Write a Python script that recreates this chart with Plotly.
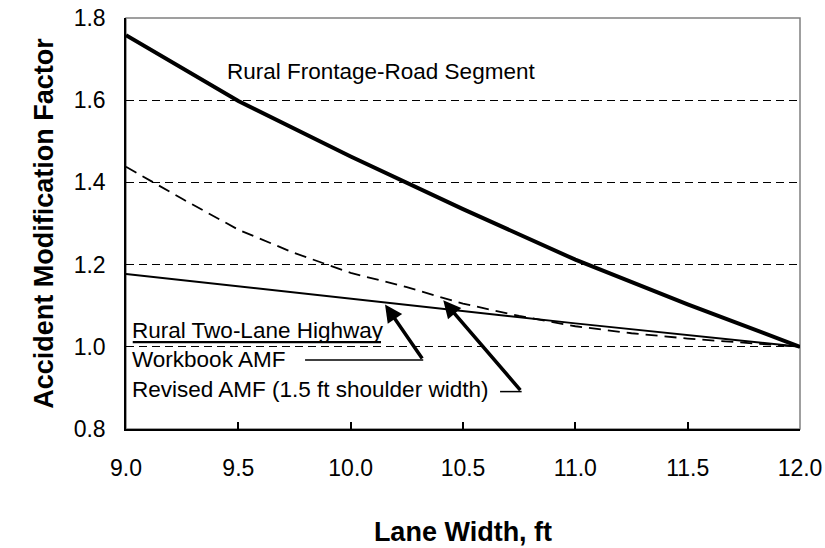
import plotly.graph_objects as go

# Data (lane width in ft, AMF)
lane_width = [9.0, 9.5, 10.0, 10.5, 11.0, 11.5, 12.0]
frontage_amf = [1.758, 1.598, 1.463, 1.335, 1.212, 1.103, 1.0]

workbook_x = [9.0, 10.0, 11.0, 12.0]
workbook_amf = [1.177, 1.117, 1.057, 1.0]

revised_x = [9.0, 9.25, 9.5, 9.75, 10.0, 10.25, 10.5, 10.75, 11.0, 11.25, 11.5, 11.75, 12.0]
revised_amf = [1.438, 1.36, 1.285, 1.228, 1.18, 1.145, 1.105, 1.075, 1.05, 1.033, 1.02, 1.01, 1.0]

x_ticks = [9.0, 9.5, 10.0, 10.5, 11.0, 11.5, 12.0]
y_ticks = [0.8, 1.0, 1.2, 1.4, 1.6, 1.8]

FONT = "Liberation Sans, Arial, sans-serif"

fig = go.Figure()
fig.add_trace(go.Scatter(x=workbook_x, y=workbook_amf, mode="lines",
                         line=dict(color="black", width=2)))
fig.add_trace(go.Scatter(x=revised_x, y=revised_amf, mode="lines",
                         line=dict(color="black", width=1.8, dash="12px,7px")))
fig.add_trace(go.Scatter(x=lane_width, y=frontage_amf, mode="lines",
                         line=dict(color="black", width=4)))

annotations = [
    dict(x=9.44, y=1.669, xref="x", yref="y", text="Rural Frontage-Road Segment",
         showarrow=False, xanchor="left", yanchor="middle",
         font=dict(family=FONT, size=22.5, color="black")),
    dict(x=9.018, y=1.04, xref="x", yref="y", text="Rural Two-Lane Highway",
         showarrow=False, xanchor="left", yanchor="middle",
         font=dict(family=FONT, size=22.5, color="black")),
    dict(x=9.018, y=0.968, xref="x", yref="y", text="Workbook AMF",
         showarrow=False, xanchor="left", yanchor="middle",
         font=dict(family=FONT, size=22.5, color="black")),
    dict(x=9.018, y=0.895, xref="x", yref="y", text="Revised AMF (1.5 ft shoulder width)",
         showarrow=False, xanchor="left", yanchor="middle",
         font=dict(family=FONT, size=22.5, color="black")),
    # arrows
    dict(x=10.153, y=1.103, xref="x", yref="y", ax=10.323, ay=0.968,
         axref="x", ayref="y", text="", showarrow=True, arrowhead=2,
         arrowsize=1.0, arrowwidth=3.5, arrowcolor="black", standoff=0),
    dict(x=10.412, y=1.113, xref="x", yref="y", ax=10.761, ay=0.891,
         axref="x", ayref="y", text="", showarrow=True, arrowhead=2,
         arrowsize=1.0, arrowwidth=3.5, arrowcolor="black", standoff=0),
]

shapes = [
    dict(type="rect", xref="paper", yref="paper", x0=0, y0=0, x1=1, y1=1,
         line=dict(color="#808080", width=1.5), layer="below"),
    # underline of the "Rural Two-Lane Highway" heading
    dict(type="line", xref="x", yref="y", x0=9.03, x1=10.135, y0=1.0115, y1=1.0115,
         line=dict(color="black", width=2.2)),
    # leader lines from labels to arrows
    dict(type="line", xref="x", yref="y", x0=9.797, x1=10.323, y0=0.968, y1=0.968,
         line=dict(color="black", width=1.5)),
    dict(type="line", xref="x", yref="y", x0=10.665, x1=10.761, y0=0.891, y1=0.891,
         line=dict(color="black", width=1.5)),
]

fig.update_layout(
    width=825, height=548,
    margin=dict(l=126, r=25, t=18, b=119),
    paper_bgcolor="white", plot_bgcolor="white",
    showlegend=False,
    font=dict(family=FONT, size=23, color="black"),
    annotations=annotations,
    shapes=shapes,
)

fig.update_xaxes(
    range=[9.0, 12.0], tickvals=x_ticks, ticktext=[f"{v:.1f}" for v in x_ticks],
    showgrid=False, zeroline=False,
    showline=True, linecolor="black", linewidth=1.5,
    ticks="inside", ticklen=7, tickwidth=1.5, tickcolor="black",
    tickfont=dict(family=FONT, size=23, color="black"),
    ticklabelstandoff=18, ticklabeloverflow="allow",
    title=dict(text="<b>Lane Width, ft</b>", font=dict(family=FONT, size=27, color="black"),
               standoff=42),
    automargin=False,
)
fig.update_yaxes(
    range=[0.8, 1.8], tickvals=y_ticks, ticktext=[f"{v:.1f}" for v in y_ticks],
    showgrid=True, gridcolor="black", gridwidth=1, griddash="8px,5px",
    zeroline=False,
    showline=True, linecolor="black", linewidth=1.5,
    ticks="", tickfont=dict(family=FONT, size=23, color="black"),
    ticklabelstandoff=14, ticklabeloverflow="allow",
    title=dict(text="<b>Accident Modification Factor</b>",
               font=dict(family=FONT, size=27, color="black"), standoff=12),
    automargin=False,
)

# remove the default 8px page margin so the figure fills the window exactly
fig.write_html("out.html", config={"displayModeBar": False},
               post_script="document.body.style.margin='0';document.body.style.overflow='hidden';")
